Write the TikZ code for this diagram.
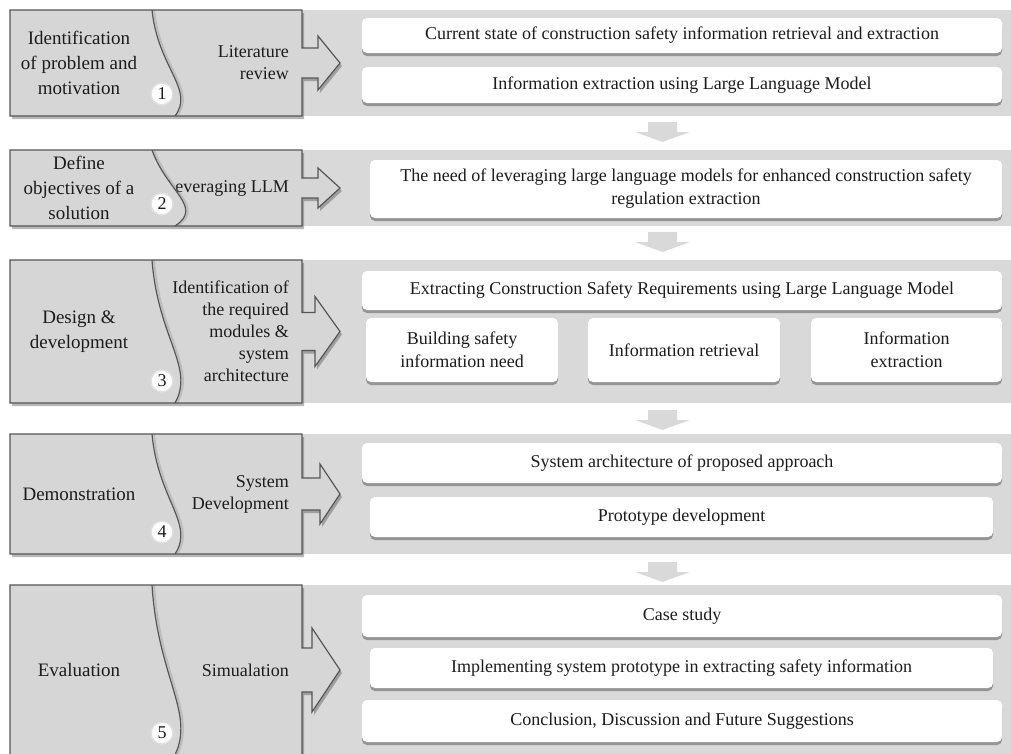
\documentclass[tikz,border=0pt]{standalone}
\usepackage{fontspec}
\setmainfont{Liberation Serif}
\usetikzlibrary{shadows}
\definecolor{bandgray}{RGB}{217,217,217}
\definecolor{boxgray}{RGB}{214,214,214}
\definecolor{edgegray}{RGB}{85,85,85}
\definecolor{txt}{RGB}{28,28,28}
\tikzset{
  wbox/.style={rounded corners=5pt, fill=white, inner sep=0pt, align=center, text=txt,
    font=\fontsize{18}{23}\selectfont,
    drop shadow={shadow xshift=0pt, shadow yshift=-3pt, opacity=0.45, fill=black!75}},
  midlabel/.style={anchor=east, align=right, inner sep=0pt, text=txt, font=\fontsize{18}{22}\selectfont},
  leftlabel/.style={align=center, inner sep=0pt, text=txt, font=\fontsize{19}{25}\selectfont},
  numcircle/.style={circle, fill=white, draw=gray!25, line width=1.5pt, minimum size=22pt, inner sep=0pt,
    text=txt, font=\fontsize{18}{18}\selectfont},
  stageedge/.style={draw=edgegray, line width=1.2pt, line join=miter},
  stagefill/.style={fill=boxgray, drop shadow={shadow xshift=2pt, shadow yshift=-3pt, opacity=0.35, fill=black!80}},
  curveline/.style={draw=edgegray, line width=1.2pt},
  curveshadow/.style={draw=black!45, line width=2pt, opacity=0.35},
  downarrowfill/.style={fill=bandgray},
}
\def\curvepush{0}
% #1 id, #2 top, #3 bottom, #4 shaft half, #5 head half, #6 head base x, #7 left text, #8 middle text, #9 number
\newcommand\stagerow[9]{%
  \pgfmathsetmacro\stMid{(#2+#3)/2}%
  \pgfmathsetmacro\stSa{\stMid-#4}%
  \pgfmathsetmacro\stSb{\stMid+#4}%
  \pgfmathsetmacro\stHa{\stMid-#5}%
  \pgfmathsetmacro\stHb{\stMid+#5}%
  \pgfmathsetmacro\stCa{#2+0.55*(#3-#2)}%
  \pgfmathsetmacro\stCb{#2+0.75*(#3-#2)}%
  \pgfmathsetmacro\stXa{158+\curvepush}%
  \pgfmathsetmacro\stXb{195+\curvepush}%
  \fill[bandgray] (302,#2) rectangle (1011,#3);
  \path[stagefill] (10,#2) -- (302,#2) -- (302,\stSa) -- (#6,\stSa) -- (#6,\stHa) -- (340,\stMid)
     -- (#6,\stHb) -- (#6,\stSb) -- (302,\stSb) -- (302,#3) -- (10,#3) -- cycle;
  \node[midlabel] (#1m) at (289,\stMid) {#8};
  \fill[boxgray] (10,#2) -- (152,#2) .. controls (\stXa,\stCa) and (\stXb,\stCb) .. (175,#3) -- (10,#3) -- cycle;
  \draw[curveshadow] (154,#2) .. controls (\stXa+2,\stCa) and (\stXb+2,\stCb) .. (177,#3);
  \draw[curveline] (152,#2) .. controls (\stXa,\stCa) and (\stXb,\stCb) .. (175,#3);
  \path[stageedge] (10,#2) -- (302,#2) -- (302,\stSa) -- (#6,\stSa) -- (#6,\stHa) -- (340,\stMid)
     -- (#6,\stHb) -- (#6,\stSb) -- (302,\stSb) -- (302,#3) -- (10,#3) -- cycle;
  \node[leftlabel] (#1l) at (79,\stMid) {#7};
  \node[numcircle] (#1n) at (162,#3-22) {#9};
}
\newcommand\downarr[2]{%
  \fill[downarrowfill] (648,#2) -- (677,#2) -- (677,#2+10) -- (690,#2+10) -- (662.5,#2+20)
     -- (635,#2+10) -- (648,#2+10) -- cycle;
  \coordinate (#1) at (662.5,#2+10);
}
\begin{document}
\begin{tikzpicture}[x=1pt, y=-1pt]
\useasboundingbox (0,0) rectangle (1011,753);
\clip (0,0) rectangle (1011,753);
\fill[white] (0,0) rectangle (1011,753);

\stagerow{s1}{10}{116}{15}{27}{318}{Identification\\of problem and\\motivation}{Literature\\review}{1}
\def\curvepush{9}
\stagerow{s2}{150}{226}{10}{20}{318}{Define\\objectives of a\\solution}{Leveraging LLM}{2}
\def\curvepush{0}
\stagerow{s3}{260}{403}{19}{35}{315}{Design \&\\development}{Identification of\\the required\\modules \&\\system\\architecture}{3}
\stagerow{s4}{434}{554}{16}{30}{320}{Demonstration}{System\\Development}{4}
\stagerow{s5}{585}{755}{22}{42}{312}{Evaluation}{Simualation}{5}

\downarr{d1}{122}
\downarr{d2}{232}
\downarr{d3}{410}
\downarr{d4}{562}

% row 1
\node[wbox, minimum width=640pt, minimum height=35pt] (b1a) at (682,35.5) {Current state of construction safety information retrieval and extraction};
\node[wbox, minimum width=640pt, minimum height=36pt] (b1b) at (682,85) {Information extraction using Large Language Model};
% row 2
\node[wbox, minimum width=632pt, minimum height=58pt] (b2a) at (686,189) {The need of leveraging large language models for enhanced construction safety\\regulation extraction};
% row 3
\node[wbox, minimum width=640pt, minimum height=39pt] (b3a) at (682,290.5) {Extracting Construction Safety Requirements using Large Language Model};
\node[wbox, minimum width=192pt, minimum height=64pt] (b3b) at (462,350) {Building safety\\information need};
\node[wbox, minimum width=192pt, minimum height=64pt] (b3c) at (684,350) {Information retrieval};
\node[wbox, minimum width=191pt, minimum height=64pt] (b3d) at (906.5,350) {Information\\extraction};
% row 4
\node[wbox, minimum width=640pt, minimum height=40pt] (b4a) at (682,463) {System architecture of proposed approach};
\node[wbox, minimum width=623pt, minimum height=40pt] (b4b) at (681.5,517) {Prototype development};
% row 5
\node[wbox, minimum width=640pt, minimum height=42pt] (b5a) at (682,616) {Case study};
\node[wbox, minimum width=623pt, minimum height=40pt] (b5b) at (681.5,668) {Implementing system prototype in extracting safety information};
\node[wbox, minimum width=640pt, minimum height=42pt] (b5c) at (682,721) {Conclusion, Discussion and Future Suggestions};
\end{tikzpicture}
\end{document}
